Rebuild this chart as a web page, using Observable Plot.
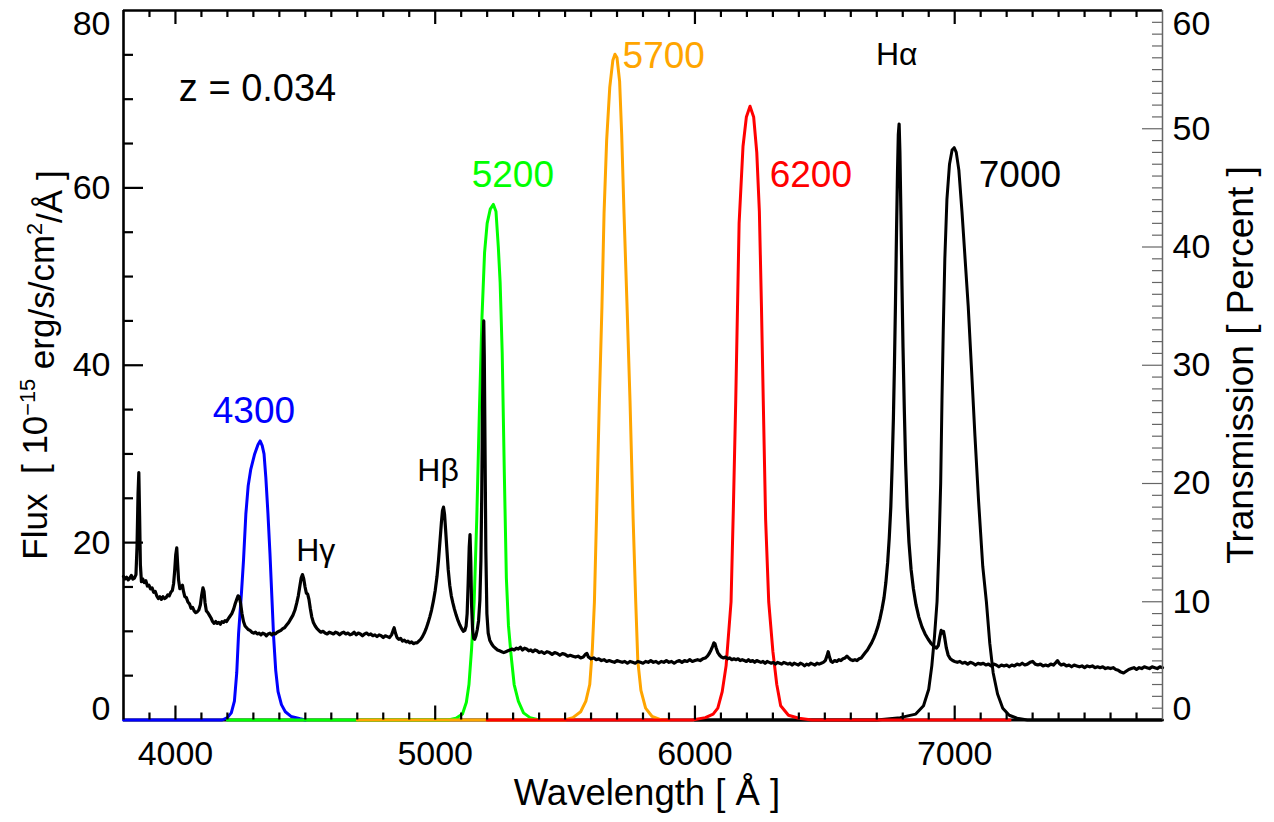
<!DOCTYPE html>
<html><head><meta charset="utf-8">
<script src="https://cdn.jsdelivr.net/npm/d3@7"></script>
<script src="https://cdn.jsdelivr.net/npm/@observablehq/plot@0.6"></script>
<style>body{margin:0;background:#fff}svg{display:block}</style>
</head><body><div id="chart"></div>
<script>
// ---------- DATA ----------
// Observed spectrum: [wavelength (Å), flux (1e-15 erg/s/cm2/Å)]
const spectrum = [
[3800,16.2],[3806,15.9],[3812,16.1],[3818,15.8],[3824,16.0],[3830,16.3],[3836,15.9],[3842,16.0],[3848,16.4],[3852,19.5],[3856,25.5],[3859,27.9],[3862,23.0],[3865,17.5],[3869,15.6],[3874,15.9],[3880,15.5],[3886,15.7],[3892,15.1],[3898,15.2],[3904,14.8],[3910,14.9],[3916,14.4],[3922,14.5],[3928,14.0],[3934,13.7],[3940,13.9],[3946,13.6],[3952,13.9],[3958,13.7],[3964,13.8],[3970,14.1],[3976,14.0],[3982,14.4],[3988,14.6],[3993,15.4],[3997,16.8],[4001,18.6],[4005,19.4],[4008,17.8],[4012,15.8],[4017,14.8],[4022,15.0],[4027,15.2],[4031,14.5],[4036,13.9],[4042,13.8],[4048,13.3],[4054,13.1],[4060,12.6],[4066,12.7],[4072,12.3],[4078,12.1],[4084,12.2],[4090,12.4],[4096,13.0],[4101,14.1],[4106,14.9],[4110,14.5],[4114,13.2],[4119,12.3],[4125,12.1],[4131,11.8],[4137,11.5],[4143,11.1],[4149,10.9],[4155,11.1],[4161,10.9],[4167,11.0],[4173,10.8],[4179,11.1],[4185,11.0],[4191,11.2],[4197,11.1],[4203,11.4],[4210,11.7],[4217,12.0],[4224,12.5],[4230,13.1],[4236,13.6],[4241,14.0],[4246,13.9],[4251,13.1],[4256,12.0],[4262,11.1],[4268,10.6],[4274,10.4],[4280,10.2],[4287,10.1],[4294,9.9],[4301,9.8],[4308,9.9],[4315,9.7],[4322,9.8],[4329,9.6],[4336,9.8],[4343,9.7],[4350,9.5],[4357,9.7],[4364,9.8],[4371,9.6],[4378,9.8],[4385,9.7],[4392,9.9],[4399,10.0],[4406,10.1],[4413,10.3],[4420,10.4],[4428,10.7],[4436,11.0],[4444,11.4],[4452,11.8],[4460,12.4],[4467,13.2],[4473,14.0],[4479,15.1],[4484,16.0],[4489,16.4],[4494,15.9],[4499,15.0],[4504,14.3],[4509,14.2],[4514,13.6],[4519,12.6],[4525,11.6],[4531,11.0],[4538,10.6],[4545,10.3],[4552,10.1],[4560,9.9],[4568,10.0],[4576,9.8],[4584,9.7],[4592,9.9],[4600,9.8],[4608,9.7],[4616,9.9],[4624,9.8],[4632,9.6],[4640,9.8],[4648,9.9],[4656,9.7],[4664,9.8],[4672,9.6],[4680,9.7],[4688,9.9],[4696,9.6],[4704,9.8],[4712,9.7],[4720,9.5],[4728,9.7],[4736,9.8],[4744,9.6],[4752,9.7],[4760,9.5],[4768,9.6],[4776,9.4],[4784,9.6],[4792,9.5],[4800,9.3],[4808,9.5],[4816,9.4],[4824,9.3],[4832,9.6],[4838,10.1],[4842,10.4],[4847,9.8],[4853,9.3],[4860,9.1],[4867,9.2],[4874,8.9],[4881,9.0],[4888,8.8],[4895,8.9],[4902,8.7],[4909,8.8],[4916,8.6],[4923,8.7],[4930,8.7],[4937,8.9],[4944,9.1],[4951,9.4],[4958,9.8],[4965,10.3],[4972,10.9],[4979,11.6],[4986,12.4],[4993,13.4],[5000,14.6],[5007,16.2],[5013,18.1],[5019,20.4],[5024,22.3],[5028,23.6],[5032,24.0],[5036,23.2],[5040,21.5],[5045,19.2],[5050,17.0],[5056,15.2],[5062,14.0],[5068,13.2],[5074,12.5],[5081,11.8],[5088,11.2],[5095,10.7],[5102,10.3],[5108,10.0],[5114,10.1],[5119,10.6],[5123,12.0],[5127,15.5],[5131,19.5],[5134,20.9],[5137,18.0],[5140,13.0],[5144,10.2],[5148,9.2],[5152,9.1],[5157,9.5],[5162,10.2],[5167,11.2],[5172,13.5],[5176,18.0],[5179,25.0],[5182,35.0],[5185,43.0],[5187,45.0],[5189,41.0],[5192,30.0],[5195,19.0],[5199,12.0],[5204,9.8],[5210,9.0],[5217,8.6],[5224,8.3],[5232,8.1],[5240,7.9],[5248,7.8],[5256,7.7],[5264,7.6],[5272,7.7],[5280,7.8],[5288,7.9],[5296,8.0],[5304,7.9],[5312,8.1],[5320,8.0],[5328,8.2],[5336,7.9],[5344,8.1],[5352,8.0],[5360,7.8],[5368,7.9],[5376,7.7],[5384,7.9],[5392,7.8],[5400,7.6],[5410,7.7],[5420,7.5],[5430,7.7],[5440,7.6],[5450,7.4],[5460,7.6],[5470,7.5],[5480,7.3],[5490,7.5],[5500,7.4],[5510,7.2],[5520,7.3],[5530,7.2],[5540,7.1],[5550,7.2],[5560,7.0],[5570,7.1],[5578,7.4],[5584,7.5],[5590,7.1],[5600,6.9],[5610,7.0],[5620,6.8],[5630,6.9],[5640,6.7],[5650,6.8],[5660,6.6],[5670,6.7],[5680,6.6],[5690,6.5],[5700,6.7],[5710,6.6],[5720,6.5],[5730,6.6],[5740,6.4],[5750,6.6],[5760,6.5],[5770,6.4],[5780,6.6],[5790,6.5],[5800,6.4],[5810,6.6],[5820,6.5],[5830,6.7],[5840,6.5],[5850,6.6],[5860,6.4],[5870,6.6],[5880,6.5],[5890,6.7],[5900,6.5],[5910,6.6],[5920,6.4],[5930,6.6],[5940,6.7],[5950,6.5],[5960,6.7],[5970,6.6],[5980,6.8],[5990,6.6],[6000,6.7],[6010,6.8],[6020,6.7],[6030,6.9],[6040,7.0],[6048,7.2],[6055,7.5],[6062,7.9],[6068,8.3],[6073,8.7],[6077,8.6],[6082,8.1],[6088,7.6],[6095,7.3],[6102,7.1],[6110,7.0],[6118,7.1],[6126,6.9],[6134,7.0],[6142,6.8],[6150,6.9],[6158,6.8],[6166,6.9],[6174,6.7],[6182,6.8],[6190,6.7],[6198,6.6],[6206,6.8],[6214,6.6],[6222,6.7],[6230,6.5],[6238,6.7],[6246,6.6],[6254,6.5],[6262,6.6],[6270,6.4],[6278,6.6],[6286,6.5],[6294,6.4],[6302,6.5],[6310,6.3],[6318,6.5],[6326,6.4],[6334,6.3],[6342,6.5],[6350,6.4],[6358,6.3],[6366,6.4],[6374,6.2],[6382,6.4],[6390,6.3],[6398,6.2],[6406,6.4],[6414,6.3],[6422,6.1],[6430,6.3],[6438,6.2],[6446,6.4],[6454,6.3],[6462,6.2],[6470,6.4],[6478,6.3],[6486,6.4],[6494,6.5],[6502,6.7],[6508,7.2],[6513,7.7],[6518,7.1],[6524,6.6],[6530,6.5],[6538,6.7],[6546,6.6],[6554,6.8],[6562,6.7],[6570,6.9],[6578,7.0],[6585,7.2],[6592,7.0],[6600,6.8],[6608,6.7],[6616,6.8],[6624,6.7],[6632,6.9],[6640,7.0],[6648,7.3],[6656,7.6],[6664,7.9],[6672,8.3],[6680,8.7],[6688,9.2],[6696,9.8],[6704,10.5],[6712,11.4],[6720,12.5],[6728,13.8],[6735,15.5],[6742,17.8],[6748,20.5],[6754,24.0],[6759,28.5],[6764,34.0],[6768,40.0],[6772,47.0],[6776,55.0],[6780,62.0],[6783,66.0],[6786,67.2],[6789,64.0],[6793,57.0],[6797,49.0],[6801,42.0],[6806,35.0],[6811,29.0],[6817,24.0],[6824,20.0],[6832,17.0],[6841,14.8],[6851,13.0],[6862,11.6],[6874,10.5],[6886,9.7],[6898,9.1],[6910,8.6],[6920,8.3],[6930,8.1],[6937,8.4],[6943,9.4],[6948,10.1],[6953,9.8],[6957,10.0],[6962,9.2],[6968,8.1],[6975,7.3],[6983,6.9],[6992,6.7],[7000,6.6],[7010,6.5],[7020,6.6],[7030,6.4],[7040,6.5],[7050,6.3],[7060,6.5],[7070,6.4],[7080,6.2],[7090,6.4],[7100,6.3],[7110,6.4],[7120,6.2],[7130,6.3],[7140,6.1],[7150,6.3],[7160,6.2],[7170,6.0],[7180,6.2],[7190,6.1],[7200,6.2],[7210,6.0],[7220,6.2],[7230,6.1],[7240,6.3],[7250,6.2],[7260,6.4],[7270,6.2],[7280,6.3],[7290,6.5],[7300,6.6],[7310,6.3],[7320,6.2],[7330,6.3],[7340,6.1],[7350,6.2],[7360,6.1],[7370,6.3],[7380,6.2],[7390,6.5],[7396,6.7],[7402,6.4],[7410,6.2],[7420,6.3],[7430,6.1],[7440,6.2],[7450,6.0],[7460,6.2],[7470,6.1],[7480,6.0],[7490,6.1],[7500,5.9],[7510,6.1],[7520,6.0],[7530,6.1],[7540,5.9],[7550,6.0],[7560,5.9],[7570,6.0],[7580,5.8],[7590,5.9],[7600,5.8],[7610,5.9],[7620,5.7],[7630,5.6],[7640,5.4],[7650,5.3],[7660,5.5],[7670,5.7],[7680,5.8],[7690,5.9],[7700,5.7],[7710,5.9],[7720,5.8],[7730,6.0],[7740,5.9],[7750,5.8],[7760,6.0],[7770,5.9],[7780,5.8],[7790,6.0],[7800,5.9]
];

// Filter transmission curves: [wavelength (Å), transmission (%)]
const filter4300 = [[3800,0],[4180,0],[4200,0.2],[4215,0.6],[4227,1.6],[4236,4],[4243,7.3],[4254,10.7],[4262,13.5],[4271,17.4],[4280,19.8],[4290,21.2],[4305,22.5],[4318,23.3],[4326,23.6],[4334,23.2],[4341,22.5],[4348,20.5],[4356,17.5],[4364,14],[4371,10.5],[4378,7],[4386,4.2],[4395,2.4],[4408,1.3],[4423,0.7],[4445,0.3],[4480,0.1],[4500,0]];
const filter5200 = [[4200,0],[5050,0],[5080,0.15],[5105,0.5],[5120,1.5],[5130,3],[5140,6],[5150,10],[5160,17],[5170,26],[5180,34],[5190,39.5],[5200,42],[5212,43.2],[5224,43.6],[5234,43],[5243,40],[5250,37],[5258,31],[5266,21],[5274,12],[5282,8],[5292,5.5],[5304,3],[5320,1.6],[5340,0.6],[5365,0.2],[5400,0]];
const filter5700 = [[4700,0],[5500,0],[5530,0.2],[5560,0.7],[5580,1.6],[5595,3],[5605,6],[5613,10],[5622,18],[5632,27],[5642,35],[5650,42.8],[5660,49],[5672,53.5],[5684,55.8],[5692,56.3],[5700,56],[5710,54],[5718,49.5],[5727,42.8],[5738,35.4],[5750,27],[5762,17],[5772,10],[5780,5],[5792,2.5],[5810,1],[5835,0.3],[5870,0],[5900,0]];
const filter6200 = [[5200,0],[5990,0],[6040,0.2],[6070,0.5],[6088,1],[6105,2.4],[6120,4.6],[6139,10],[6148,18],[6157,27],[6170,42],[6185,48.5],[6198,51],[6212,51.9],[6226,51],[6238,48],[6248,43],[6256,35],[6263,27],[6272,17],[6284,10],[6300,5.8],[6315,3],[6330,1.2],[6360,0.4],[6400,0.15],[6450,0],[7213,0]];
const filter7000 = [[6000,0],[6700,0],[6790,0.2],[6850,0.5],[6880,1.2],[6900,2.6],[6912,4.6],[6922,7],[6932,10],[6940,15],[6946,20],[6951,27],[6956,33],[6962,39],[6970,44],[6980,47],[6990,48.2],[6998,48.4],[7006,48],[7016,46.5],[7028,43],[7040,39],[7052,35],[7064,30],[7078,24],[7092,18.5],[7108,13],[7122,10],[7135,6.5],[7148,4],[7165,2.2],[7185,1],[7210,0.4],[7240,0.15],[7280,0],[7800,0]];

const filterNames = ["7000","4300","5200","5700","6200"];
const filterColors = ["#000000","#0000ff","#00ff00","#ffa500","#ff0000"];

// Tick labels
const xTickLabels = [4000,5000,6000,7000];
const fluxTickLabels = [0,20,40,60,80];
const transTickLabels = [0,10,20,30,40,50,60];

// Annotations (x in Å, y in flux units)
const filterLabelX = [7251,4302,5299,5880,6446];
const filterLabelY = [61.4,34.8,61.4,74.9,61.4];
const lineNames = ["H\u03b3","H\u03b2","H\u03b1"];
const lineLabelX = [4540,5011,6777];
const lineLabelY = [19.1,28.1,75.0];

// ---------- LAYOUT ----------
const W = 1274, H = 822, mL = 123, mR = 112, mT = 10, mB = 102.5;
const plotW = W - mL - mR, plotH = H - mT - mB;
const k = 80 / 60; // transmission % -> flux units (right axis 0-60 ↔ left 0-80)
const font = "'Liberation Sans', Arial, Helvetica, sans-serif";

const filterSeries = [filter7000, filter4300, filter5200, filter5700, filter6200];

const xMinor = d3.range(3900, 7800, 100).filter(v => v % 1000 !== 0);
const yMinor = d3.range(5, 80, 5).filter(v => v % 20 !== 0);
const yMajor = [20, 40, 60];
const rMinor = d3.range(1, 60).filter(v => v % 10 !== 0).map(v => v * k);
const rMajor = [10, 20, 30, 40, 50].map(v => v * k);

const filterLabels = filterNames.map((t, i) => ({t, x: filterLabelX[i], y: filterLabelY[i], c: filterColors[i]}));
const lineLabels = lineNames.map((t, i) => ({t, x: lineLabelX[i], y: lineLabelY[i]}));

const tickStyle = {stroke: "black", strokeWidth: 2.2};
const rTickStyle = {stroke: "#666", strokeWidth: 1.2};

const svg = Plot.plot({
  width: W, height: H,
  marginLeft: mL, marginRight: mR, marginTop: mT, marginBottom: mB,
  x: {domain: [3800, 7800], axis: null},
  y: {domain: [0, 80], axis: null},
  color: {type: "identity"},
  style: {fontFamily: font, fontSize: "33px", background: "white", color: "black"},
  marks: [
    Plot.ruleY([0], {stroke: "black", strokeWidth: 3}),
    ...filterSeries.map((f, i) => Plot.line(f, {x: d => d[0], y: d => d[1] * k, stroke: filterColors[i], strokeWidth: 3})),
    Plot.line(spectrum, {x: d => d[0], y: d => d[1], stroke: "black", strokeWidth: 3.2}),
    // frame
    Plot.ruleX([3800], {stroke: "black", strokeWidth: 2.6}),
    Plot.ruleY([80], {stroke: "black", strokeWidth: 2.6}),
    Plot.ruleX([7800], {stroke: "#666", strokeWidth: 1.5}),
    // x ticks (bottom + top, inward)
    Plot.ruleX(xMinor, {x: d => d, insetTop: plotH - 7, ...tickStyle}),
    Plot.ruleX(xTickLabels, {x: d => d, insetTop: plotH - 14, ...tickStyle}),
    Plot.ruleX(xMinor, {x: d => d, insetBottom: plotH - 7, ...tickStyle}),
    Plot.ruleX(xTickLabels, {x: d => d, insetBottom: plotH - 14, ...tickStyle}),
    // left ticks
    Plot.ruleY(yMinor, {y: d => d, insetRight: plotW - 10, ...tickStyle}),
    Plot.ruleY(yMajor, {y: d => d, insetRight: plotW - 20, ...tickStyle}),
    // right ticks
    Plot.ruleY(rMinor, {y: d => d, insetLeft: plotW - 10, ...rTickStyle}),
    Plot.ruleY(rMajor, {y: d => d, insetLeft: plotW - 20, ...rTickStyle}),
    // tick labels
    Plot.text(xTickLabels, {x: d => d, text: d => String(d), frameAnchor: "bottom", lineAnchor: "top", dy: 21, fontSize: 34}),
    Plot.text(fluxTickLabels.slice(1, -1), {y: d => d, text: d => String(d), frameAnchor: "left", textAnchor: "end", dx: -13, fontSize: 34}),
    Plot.text(fluxTickLabels.slice(-1), {y: d => d, text: d => String(d), frameAnchor: "left", textAnchor: "end", lineAnchor: "top", dx: -13, fontSize: 34}),
    Plot.text(fluxTickLabels.slice(0, 1), {y: d => d, text: d => String(d), frameAnchor: "left", textAnchor: "end", lineAnchor: "bottom", dx: -13, fontSize: 34}),
    Plot.text(transTickLabels.slice(1, -1), {y: d => d * k, text: d => String(d), frameAnchor: "right", textAnchor: "start", dx: 10, fontSize: 34}),
    Plot.text(transTickLabels.slice(-1), {y: d => d * k, text: d => String(d), frameAnchor: "right", textAnchor: "start", lineAnchor: "top", dx: 10, fontSize: 34}),
    Plot.text(transTickLabels.slice(0, 1), {y: d => d * k, text: d => String(d), frameAnchor: "right", textAnchor: "start", lineAnchor: "bottom", dx: 10, fontSize: 34}),
    // annotations
    Plot.text(filterLabels, {x: "x", y: "y", text: "t", fill: "c", fontSize: 37}),
    Plot.text(lineLabels, {x: "x", y: "y", text: "t", fill: "black", fontSize: 32}),
    Plot.text(["z = 0.034"], {x: () => 4013, y: () => 71.2, text: d => d, textAnchor: "start", fontSize: 38})
  ]
});

// Axis titles (with superscripts)
const s = d3.select(svg);
s.append("text").attr("x", 647).attr("y", 805).attr("text-anchor", "middle")
  .attr("font-size", 36.5).attr("font-family", font).attr("fill", "black")
  .text("Wavelength [ \u00c5 ]");
const lt = s.append("text").attr("transform", "translate(47,365) rotate(-90)").attr("text-anchor", "middle")
  .attr("font-size", 35).attr("font-family", font).attr("fill", "black");
lt.append("tspan").text("Flux\u00a0\u00a0[ 10");
lt.append("tspan").attr("dy", "-0.55em").attr("font-size", "0.62em").text("\u221215");
lt.append("tspan").attr("dy", "0.55em").text(" erg/s/cm");
lt.append("tspan").attr("dy", "-0.55em").attr("font-size", "0.62em").text("2");
lt.append("tspan").attr("dy", "0.55em").text("/\u00c5 ]");
s.append("text").attr("transform", "translate(1253,365) rotate(-90)").attr("text-anchor", "middle")
  .attr("font-size", 37).attr("font-family", font).attr("fill", "black")
  .text("Transmission [ Percent ]");

document.getElementById("chart").appendChild(svg);
</script>
</body></html>
